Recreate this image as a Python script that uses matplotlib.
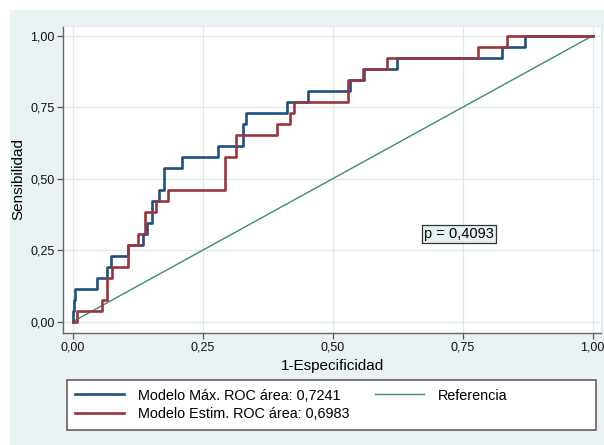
import matplotlib
matplotlib.use("Agg")
import matplotlib.pyplot as plt
from matplotlib.patches import Rectangle

plt.rcParams['font.family'] = ['Liberation Sans', 'DejaVu Sans']

# ROC curves: false positive rate at each jump, true positives (of 26) after it
n_pos = 26
fpr_max = [0.0, 0.0, 0.003, 0.005, 0.047, 0.065, 0.074, 0.107, 0.135, 0.142, 0.152,
           0.166, 0.175, 0.210, 0.279, 0.328, 0.333, 0.412, 0.453, 0.533, 0.560,
           0.623, 0.825, 0.870, 1.0]
tp_max = [0, 1, 2, 3, 4, 5, 6, 7, 8, 9, 11, 12, 14, 15, 16, 18, 19, 20, 21, 22, 23,
          24, 25, 26, 26]

fpr_est = [0.0, 0.009, 0.057, 0.065, 0.075, 0.106, 0.125, 0.139, 0.161, 0.183,
           0.293, 0.314, 0.393, 0.418, 0.426, 0.530, 0.558, 0.604, 0.779, 0.836, 1.0]
tp_est = [0, 1, 2, 4, 5, 7, 8, 10, 11, 12, 15, 17, 18, 19, 20, 22, 23, 24, 25, 26, 26]

ref_x = [0, 1]
ref_y = [0, 1]

ticks = [0, 0.25, 0.5, 0.75, 1.0]
tick_labels = ["0,00", "0,25", "0,50", "0,75", "1,00"]

label_max = "Modelo Máx. ROC área: 0,7241"
label_est = "Modelo Estim. ROC área: 0,6983"
label_ref = "Referencia"
p_text = "p = 0,4093"

bg = "#eaf2f3"
grid_c = "#dde9ec"
navy = "#1f4f7d"
maroon = "#99353d"
teal = "#3d8a7a"

W, H = 604, 445
fig = plt.figure(figsize=(W / 100, H / 100), dpi=100)
fig.patch.set_facecolor("white")
# light outer background and legend frame, in pixel positions of the figure
fig.add_artist(Rectangle((10 / W, 0), 1 - 10 / W, 1 - 10 / H,
                         transform=fig.transFigure, facecolor=bg,
                         edgecolor="none", zorder=-5))
fig.add_artist(Rectangle((67 / W, 15 / H), 529 / W, 50 / H,
                         transform=fig.transFigure, facecolor="white",
                         edgecolor="#555555", lw=1.1, zorder=-4))

ax = fig.add_axes([63 / W, 1 - 333 / H, 538 / W, 307 / H])
ax.set_facecolor("white")

y_max = [t / n_pos for t in tp_max]
y_est = [t / n_pos for t in tp_est]
l1, = ax.plot(fpr_max, y_max, drawstyle="steps-post", color=navy, lw=1.9,
              label=label_max, zorder=3)
l2, = ax.plot(fpr_est, y_est, drawstyle="steps-post", color=maroon, lw=1.9,
              label=label_est, zorder=3)
l3, = ax.plot(ref_x, ref_y, color=teal, lw=1.0, label=label_ref, zorder=2)

ax.set_xlim(-0.0187, 1.016)
ax.set_ylim(-0.0395, 1.034)
ax.set_xticks(ticks)
ax.set_xticklabels(tick_labels)
ax.set_yticks(ticks)
ax.set_yticklabels(tick_labels)
ax.grid(True, color=grid_c, lw=0.9, zorder=0)
ax.set_axisbelow(True)
ax.tick_params(direction="out", length=4, width=0.9, color="#555555",
               labelsize=9, labelcolor="#111111", pad=2)
for s in ["left", "bottom"]:
    ax.spines[s].set_color("#666666")
    ax.spines[s].set_linewidth(1.0)
for s in ["top", "right"]:
    ax.spines[s].set_color(grid_c)
    ax.spines[s].set_linewidth(0.8)

ax.set_xlabel("1-Especificidad", fontsize=11)
ax.set_ylabel("Sensibilidad", fontsize=11)
ax.xaxis.set_label_coords(0.5, -0.1075)
ax.yaxis.set_label_coords(-0.0836, 0.5)
ax.xaxis.label.set_va("center")
ax.yaxis.label.set_va("center")

ax.text(0.743, 0.307, p_text, fontsize=10.5, ha="center", va="center",
        bbox=dict(boxstyle="square,pad=0.12", facecolor="#e6f0f2",
                  edgecolor="#333333", lw=0.9), zorder=4)

leg = fig.legend(handles=[l1, l2, l3], ncol=2, loc="upper left",
                 bbox_to_anchor=(75 / W, 1 - 388.5 / H),
                 fontsize=10.4, frameon=False, handlelength=3.4,
                 handletextpad=0.95, borderaxespad=0, borderpad=0,
                 labelspacing=0.3, columnspacing=1.8)

fig.savefig("out.png", dpi=100)
